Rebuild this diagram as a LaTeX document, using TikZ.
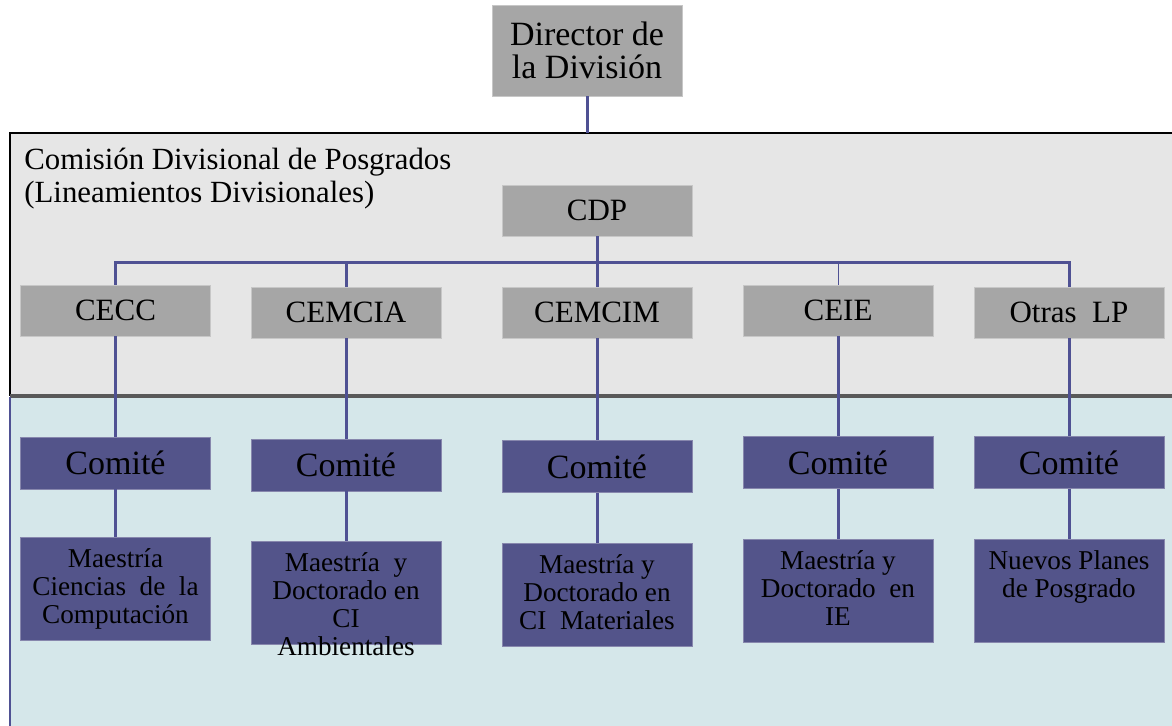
\documentclass[tikz,border=0pt]{standalone}
\usepackage{fontspec}
\setmainfont{Liberation Serif}

\definecolor{grisCaja}{HTML}{A6A6A6}
\definecolor{grisPanel}{HTML}{E6E6E6}
\definecolor{azulPanel}{HTML}{D5E7EA}
\definecolor{morado}{HTML}{53548A}
\definecolor{linea}{HTML}{4F5193}

\tikzset{
    gris/.style={fill=grisCaja, draw=black!22, line width=0.4pt, minimum width=95pt, minimum height=25.5pt, inner sep=0pt},
    comite/.style={fill=morado, draw=morado!70!white, line width=0.4pt, minimum width=95pt, minimum height=26pt, inner sep=0pt, font=\fontsize{17}{19}\selectfont},
    plan/.style={fill=morado, draw=morado!70!white, line width=0.4pt, inner sep=0pt, anchor=north, font=\fontsize{13.6}{14}\selectfont},
    conector/.style={draw=linea, line width=1.5pt}
}
\newcommand{\plancaja}[1]{\parbox[t][51.5pt][t]{95pt}{\centering\rule{0pt}{15pt}#1\par}}

\begin{document}
\begin{tikzpicture}[x=0.5pt,y=-0.5pt]
    \useasboundingbox (0,0) rectangle (1172,725);
    % paneles de fondo
    \fill[grisPanel] (10,133) rectangle (1180,396);
    \fill[azulPanel] (10,397) rectangle (1180,730);
    \draw[black, line width=1pt] (1180,133) -- (10,133) -- (10,396);
    \draw[black!65, line width=2pt] (10,396) -- (1180,396);
    \draw[linea, line width=1pt] (10,397) -- (10,730);
    \coordinate (techo) at (587,133);
    \node[anchor=north west, align=left, inner sep=0pt, font=\fontsize{15.4}{16.5}\selectfont] (titulo) at (24,148)
        {Comisión Divisional de Posgrados\\(Lineamientos Divisionales)};

    \node[gris, minimum height=45.5pt, align=center, font=\fontsize{17}{16.5}\selectfont] (dir) at (587,50.5) {Director de\\la División};
    \node[gris, font=\fontsize{15.5}{18}\selectfont] (cdp) at (597,210.5) {CDP};

    \node[gris, font=\fontsize{15.5}{18}\selectfont] (cecc) at (115.5,310.5) {CECC};
    \node[gris, font=\fontsize{15.5}{18}\selectfont] (cemcia) at (346,312.5) {CEMCIA};
    \node[gris, font=\fontsize{15.5}{18}\selectfont] (cemcim) at (597,312.5) {CEMCIM};
    \node[gris, font=\fontsize{15.5}{18}\selectfont] (ceie) at (838,310.5) {CEIE};
    \node[gris, font=\fontsize{15.5}{18}\selectfont] (otras) at (1069,312.5) {Otras\ \ LP};

    \node[comite] (com1) at (115.5,463) {Comité};
    \node[comite] (com2) at (346,465) {Comité};
    \node[comite] (com3) at (597,466.5) {Comité};
    \node[comite] (com4) at (838,462.5) {Comité};
    \node[comite] (com5) at (1069,462.5) {Comité};

    \node[plan] (mcc) at (115.5,537) {\plancaja{Maestría\\Ciencias\ \ de\ \ la\\Computación}};
    \node[plan] (mcia) at (346,541) {\plancaja{Maestría\ \ y\\Doctorado en\\CI\\Ambientales}};
    \node[plan] (mcim) at (597,543) {\plancaja{Maestría y\\Doctorado en\\CI\ \ Materiales}};
    \node[plan] (mie) at (838,539) {\plancaja{Maestría y\\Doctorado\ \ en\\IE}};
    \node[plan] (npp) at (1069,539) {\plancaja{Nuevos Planes\\de Posgrado}};

    % conectores
    \draw[conector] (dir.south) -- (dir.south |- techo);
    \draw[conector] (cdp.south) -- ++(0,26) coordinate (bus);
    \foreach \n in {cecc,cemcia,cemcim,otras}{
        \draw[conector] (bus) -| (\n.north);
    }
    \draw[conector, line width=0.5pt] (bus) -| (ceie.north);
    \foreach \a/\b/\c in {cecc/com1/mcc,cemcia/com2/mcia,cemcim/com3/mcim,ceie/com4/mie,otras/com5/npp}{
        \draw[conector] (\a.south) -- (\b.north);
        \draw[conector] (\b.south) -- (\c.north);
    }
\end{tikzpicture}
\end{document}
